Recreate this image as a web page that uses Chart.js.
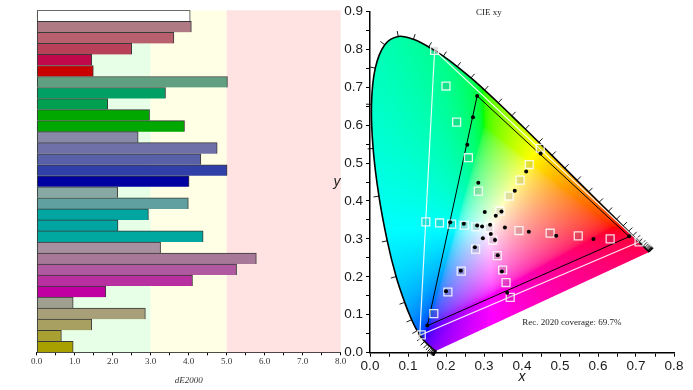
<!DOCTYPE html>
<html>
<head>
<meta charset="utf-8">
<title>dE2000 / CIE xy</title>
<script src="https://cdn.jsdelivr.net/npm/chart.js@4.4.1/dist/chart.umd.min.js"></script>
<style>
  body { margin: 0; background: #fff; }
  #page { position: relative; width: 693px; height: 390px; overflow: hidden; }
  #deChart { position: absolute; left: 0; top: 0; }
  #xyChart { position: absolute; left: 325px; top: 0; }
</style>
</head>
<body>
<div id="page">
  <canvas id="deChart" width="350" height="390"></canvas>
  <canvas id="xyChart" width="368" height="390"></canvas>
</div>
<script>
// ---- left chart: dE2000 per patch ----
const patches = [
  'White',
  'Red 20%', 'Red 40%', 'Red 60%', 'Red 80%', 'Red 100%',
  'Green 20%', 'Green 40%', 'Green 60%', 'Green 80%', 'Green 100%',
  'Blue 20%', 'Blue 40%', 'Blue 60%', 'Blue 80%', 'Blue 100%',
  'Cyan 20%', 'Cyan 40%', 'Cyan 60%', 'Cyan 80%', 'Cyan 100%',
  'Magenta 20%', 'Magenta 40%', 'Magenta 60%', 'Magenta 80%', 'Magenta 100%',
  'Yellow 20%', 'Yellow 40%', 'Yellow 60%', 'Yellow 80%', 'Yellow 100%'
];
const dE = [4.04, 4.07, 3.61, 2.50, 1.45, 1.49, 5.02, 3.39, 1.87, 2.97, 3.89,
  2.67, 4.75, 4.32, 5.01, 4.01, 2.13, 3.99, 2.94, 2.14, 4.38,
  3.26, 5.78, 5.26, 4.10, 1.82, 0.96, 2.86, 1.45, 0.65, 0.96];
const patchColors = [
  '#ffffff',
  '#b07a84', '#b8606e', '#b84058', '#c0084a', '#c80000',
  '#60a080', '#00a064', '#00a050', '#00a800', '#00a800',
  '#8888a8', '#7070a8', '#5860a8', '#3040a8', '#0000a0',
  '#88a8a4', '#60a0a0', '#00a4a0', '#00a4a0', '#00a8a0',
  '#a890a0', '#a87898', '#b058a0', '#b830a0', '#c000a0',
  '#a0a090', '#a8a078', '#a8a060', '#a8a030', '#a8a000'
];
const zoneEdges = [0, 3, 5, 8];
const zoneColors = ['#e6ffe6', '#ffffe6', '#ffe2e2'];

// ---- right chart: CIE 1931 xy ----
// spectral locus, 380..700 nm in 5 nm steps
const locusX = [0.1741, 0.1740, 0.1738, 0.1736, 0.1733, 0.1730, 0.1726, 0.1721, 0.1714, 0.1703,
  0.1689, 0.1669, 0.1644, 0.1611, 0.1566, 0.1510, 0.1440, 0.1355, 0.1241, 0.1096,
  0.0913, 0.0687, 0.0454, 0.0235, 0.0082, 0.0039, 0.0139, 0.0389, 0.0743, 0.1142,
  0.1547, 0.1929, 0.2296, 0.2658, 0.3016, 0.3373, 0.3731, 0.4087, 0.4441, 0.4788,
  0.5125, 0.5448, 0.5752, 0.6029, 0.6270, 0.6482, 0.6658, 0.6801, 0.6915, 0.7006,
  0.7079, 0.7140, 0.7190, 0.7230, 0.7260, 0.7283, 0.7300, 0.7311, 0.7320, 0.7327,
  0.7334, 0.7340, 0.7344, 0.7346, 0.7347];
const locusY = [0.0050, 0.0050, 0.0049, 0.0049, 0.0048, 0.0048, 0.0048, 0.0048, 0.0051, 0.0058,
  0.0069, 0.0086, 0.0109, 0.0138, 0.0177, 0.0227, 0.0297, 0.0399, 0.0578, 0.0868,
  0.1327, 0.2007, 0.2950, 0.4127, 0.5384, 0.6548, 0.7502, 0.8120, 0.8338, 0.8262,
  0.8059, 0.7816, 0.7543, 0.7243, 0.6923, 0.6589, 0.6245, 0.5896, 0.5547, 0.5202,
  0.4866, 0.4544, 0.4242, 0.3965, 0.3725, 0.3514, 0.3340, 0.3197, 0.3083, 0.2993,
  0.2920, 0.2859, 0.2809, 0.2770, 0.2740, 0.2717, 0.2700, 0.2689, 0.2680, 0.2673,
  0.2666, 0.2660, 0.2656, 0.2654, 0.2653];

const rec2020X = [0.708, 0.170, 0.131, 0.708];
const rec2020Y = [0.292, 0.797, 0.046, 0.292];
const gamutX = [0.682, 0.282, 0.151, 0.682];
const gamutY = [0.306, 0.677, 0.071, 0.306];

// target patches (squares)
const targetX = [0.314, 0.392, 0.474, 0.548, 0.632, 0.708, 0.285, 0.259, 0.228, 0.200, 0.170,
  0.278, 0.240, 0.205, 0.168, 0.135, 0.279, 0.248, 0.215, 0.183, 0.147,
  0.323, 0.335, 0.349, 0.358, 0.369, 0.342, 0.366, 0.395, 0.419, 0.448];
const targetY = [0.329, 0.322, 0.315, 0.308, 0.300, 0.292, 0.426, 0.514, 0.608, 0.703, 0.797,
  0.273, 0.215, 0.160, 0.103, 0.047, 0.332, 0.336, 0.339, 0.342, 0.345,
  0.297, 0.256, 0.218, 0.185, 0.146, 0.373, 0.413, 0.455, 0.496, 0.539];
// measured patches (dots)
const measX = [0.316, 0.318, 0.355, 0.418, 0.490, 0.588, 0.682, 0.302, 0.285, 0.256, 0.271, 0.282,
  0.297, 0.276, 0.239, 0.200, 0.151, 0.295, 0.282, 0.247, 0.211,
  0.329, 0.336, 0.347, 0.361, 0.331, 0.346, 0.381, 0.411, 0.449];
const measY = [0.337, 0.313, 0.330, 0.319, 0.308, 0.300, 0.307, 0.371, 0.448, 0.548, 0.621, 0.677,
  0.302, 0.278, 0.216, 0.162, 0.072, 0.333, 0.335, 0.340, 0.344,
  0.297, 0.257, 0.214, 0.158, 0.361, 0.372, 0.427, 0.478, 0.525];

const pts = (xs, ys) => xs.map((v, i) => ({ x: v, y: ys[i] }));

// background bands behind the bars
const zonePlugin = {
  id: 'zones',
  beforeDatasetsDraw(chart) {
    const { ctx, chartArea: a, scales: { x } } = chart;
    ctx.save();
    zoneColors.forEach((c, i) => {
      const x0 = x.getPixelForValue(zoneEdges[i]);
      const x1 = x.getPixelForValue(zoneEdges[i + 1]);
      ctx.fillStyle = c;
      ctx.fillRect(x0, a.top, x1 - x0, a.bottom - a.top);
    });
    ctx.restore();
  }
};

new Chart(document.getElementById('deChart'), {
  type: 'bar',
  data: {
    labels: patches,
    datasets: [{
      data: dE,
      backgroundColor: patchColors,
      borderColor: '#3a3a3a',
      borderWidth: { top: 1, right: 1, bottom: 0, left: 1 },
      borderSkipped: false,
      barPercentage: 1,
      categoryPercentage: 1
    }]
  },
  options: {
    indexAxis: 'y',
    responsive: false,
    animation: false,
    layout: { padding: { left: 36.7, top: 10.3, right: 9.3, bottom: 0 } },
    plugins: { legend: { display: false }, tooltip: { enabled: false } },
    scales: {
      y: { display: false },
      x: {
        min: 0, max: 8,
        afterFit: s => { s.height = 37.7; },
        border: { display: true, color: '#000', width: 1 },
        grid: { drawOnChartArea: false, drawTicks: true, tickLength: 3, color: '#000' },
        ticks: {
          stepSize: 0.5, autoSkip: false, maxRotation: 0, padding: 1,
          color: '#333', font: { family: 'Liberation Serif', size: 9 },
          callback: v => (v % 1 === 0 ? v.toFixed(1) : '')
        },
        title: {
          display: true, text: 'dE2000', color: '#333', padding: 4,
          font: { family: 'Liberation Serif', size: 9, style: 'italic' }
        }
      }
    }
  },
  plugins: [zonePlugin]
});

// chromaticity -> display colour
function enc(v) {
  v = Math.max(0, Math.min(1, v));
  return v <= 0.0031308 ? 12.92 * v : 1.055 * Math.pow(v, 1 / 2.4) - 0.055;
}
function xyToRgb(cx, cy) {
  if (cy < 1e-4) cy = 1e-4;
  const X = cx / cy, Z = (1 - cx - cy) / cy;
  let r = 3.2406 * X - 1.5372 - 0.4986 * Z;
  let g = -0.9689 * X + 1.8758 + 0.0415 * Z;
  let b = 0.0557 * X - 0.2040 + 1.0570 * Z;
  const m = Math.min(r, g, b);
  if (m < 0) { r -= m; g -= m; b -= m; }
  const mx = Math.max(r, g, b) || 1;
  return [enc(r / mx) * 255, enc(g / mx) * 255, enc(b / mx) * 255];
}

// smooth path through the locus points (Catmull-Rom)
function tracePath(ctx, P) {
  ctx.moveTo(P[0][0], P[0][1]);
  for (let i = 0; i < P.length - 1; i++) {
    const p0 = P[Math.max(0, i - 1)], p1 = P[i], p2 = P[i + 1], p3 = P[Math.min(P.length - 1, i + 2)];
    ctx.bezierCurveTo(
      p1[0] + (p2[0] - p0[0]) / 6, p1[1] + (p2[1] - p0[1]) / 6,
      p2[0] - (p3[0] - p1[0]) / 6, p2[1] - (p3[1] - p1[1]) / 6,
      p2[0], p2[1]);
  }
}

const locusPlugin = {
  id: 'locus',
  beforeDatasetsDraw(chart) {
    const { ctx, chartArea: a, scales: { x, y } } = chart;
    const w = Math.ceil(a.right - a.left), h = Math.ceil(a.bottom - a.top);
    if (!chart.$fill) {
      const off = document.createElement('canvas');
      off.width = w; off.height = h;
      const octx = off.getContext('2d');
      const img = octx.createImageData(w, h);
      for (let j = 0; j < h; j++) {
        const cy = y.getValueForPixel(a.top + j + 0.5);
        for (let i = 0; i < w; i++) {
          const cx = x.getValueForPixel(a.left + i + 0.5);
          const c = xyToRgb(cx, cy);
          const k = (j * w + i) * 4;
          img.data[k] = c[0]; img.data[k + 1] = c[1]; img.data[k + 2] = c[2]; img.data[k + 3] = 255;
        }
      }
      octx.putImageData(img, 0, 0);
      chart.$fill = off;
    }
    const P = locusX.map((v, i) => [x.getPixelForValue(v), y.getPixelForValue(locusY[i])]);
    ctx.save();
    ctx.beginPath();
    tracePath(ctx, P);
    ctx.closePath();
    ctx.clip();
    ctx.drawImage(chart.$fill, a.left, a.top);
    ctx.restore();

    ctx.save();
    ctx.strokeStyle = '#000';
    ctx.lineJoin = 'round';
    ctx.lineWidth = 1.6;
    ctx.beginPath();
    tracePath(ctx, P);
    ctx.stroke();
    // wavelength ticks
    const wx = x.getPixelForValue(0.3127), wy = y.getPixelForValue(0.329);
    ctx.lineWidth = 0.9;
    for (let i = 0; i < P.length; i++) {
      let lo = i, hi = i, dx = 0, dy = 0;
      while ((dx * dx + dy * dy) < 9 && (lo > 0 || hi < P.length - 1)) {
        lo = Math.max(0, lo - 1); hi = Math.min(P.length - 1, hi + 1);
        dx = P[hi][0] - P[lo][0]; dy = P[hi][1] - P[lo][1];
      }
      const len = Math.hypot(dx, dy) || 1;
      let nx = -dy / len, ny = dx / len;
      if (nx * (P[i][0] - wx) + ny * (P[i][1] - wy) < 0) { nx = -nx; ny = -ny; }
      ctx.beginPath();
      ctx.moveTo(P[i][0], P[i][1]);
      ctx.lineTo(P[i][0] + nx * 5.5, P[i][1] + ny * 5.5);
      ctx.stroke();
    }
    ctx.restore();
  },
  afterDraw(chart) {
    const { ctx, scales: { x, y } } = chart;
    ctx.save();
    ctx.fillStyle = '#222';
    ctx.textAlign = 'center';
    ctx.textBaseline = 'middle';
    ctx.font = '9px "Liberation Serif"';
    ctx.fillText('CIE xy', x.getPixelForValue(0.313), 13);
    ctx.fillText('Rec. 2020 coverage: 69.7%', x.getPixelForValue(0.531), y.getPixelForValue(0.080));
    ctx.font = 'italic 14px "Liberation Sans"';
    ctx.fillText('y', 12, y.getPixelForValue(0.45));
    ctx.restore();
  }
};

const axisTick = v => (Math.round(v * 100) % 10 === 0 ? v.toFixed(1) : '');

new Chart(document.getElementById('xyChart'), {
  type: 'scatter',
  data: {
    datasets: [
      {
        data: pts(measX, measY), order: 0,
        pointRadius: 2, pointBackgroundColor: '#000', pointBorderWidth: 0
      },
      {
        data: pts(targetX, targetY), order: 1,
        pointStyle: 'rect', pointRadius: 5.6, pointBorderWidth: 1.3,
        pointBorderColor: 'rgba(255,255,255,0.85)', pointBackgroundColor: 'rgba(110,110,110,0.2)'
      },
      {
        data: pts(gamutX, gamutY), order: 2, showLine: true,
        pointRadius: 0, borderColor: '#000', borderWidth: 1
      },
      {
        data: pts(rec2020X, rec2020Y), order: 3, showLine: true,
        pointRadius: 0, borderColor: 'rgba(255,255,255,0.9)', borderWidth: 1.2
      }
    ]
  },
  options: {
    responsive: false,
    animation: false,
    layout: { padding: { left: 0, top: 11.3, right: 19, bottom: 0 } },
    plugins: { legend: { display: false }, tooltip: { enabled: false } },
    scales: {
      x: {
        type: 'linear', min: 0, max: 0.8,
        afterFit: s => { s.height = 37.3; },
        border: { display: true, color: '#000', width: 1.5 },
        grid: { drawOnChartArea: false, tickLength: 4, color: '#000' },
        ticks: {
          stepSize: 0.05, autoSkip: false, maxRotation: 0, padding: 1,
          color: '#1a1a1a', font: { family: 'Liberation Sans', size: 13.5 },
          callback: axisTick
        },
        title: {
          display: true, text: 'x', color: '#1a1a1a', padding: 4,
          font: { family: 'Liberation Sans', size: 14, style: 'italic' }
        }
      },
      y: {
        type: 'linear', min: 0, max: 0.9,
        afterFit: s => { s.width = 45; },
        border: { display: true, color: '#000', width: 1.5 },
        grid: { drawOnChartArea: false, tickLength: 4, color: '#000' },
        ticks: {
          stepSize: 0.05, autoSkip: false, padding: 3,
          color: '#1a1a1a', font: { family: 'Liberation Sans', size: 13.5 },
          callback: axisTick
        }
      }
    }
  },
  plugins: [locusPlugin]
});
</script>
</body>
</html>
